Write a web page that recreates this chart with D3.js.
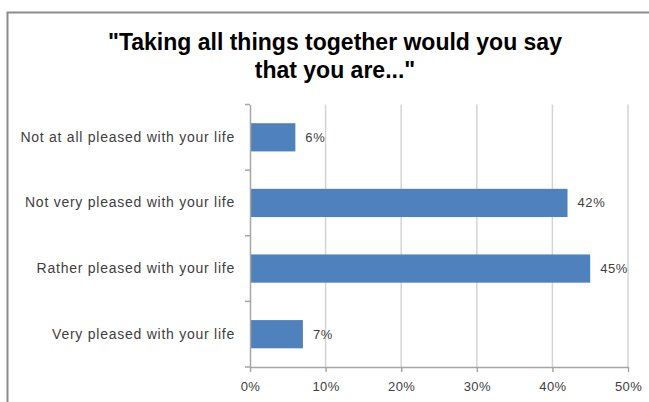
<!DOCTYPE html>
<html>
<head>
<meta charset="utf-8">
<script src="https://cdn.jsdelivr.net/npm/d3@7"></script>
<style>
  body { margin: 0; background: #fff; }
  svg { display: block; }
</style>
</head>
<body>
<svg id="chart" width="649" height="402"></svg>
<script>
// chart data
const categories = [
    "Not at all pleased with your life",
    "Not very pleased with your life",
    "Rather pleased with your life",
    "Very pleased with your life"
];
const values = [6, 42, 45, 7];
const xTicks = [0, 10, 20, 30, 40, 50];
const titleLines = ['"Taking all things together would you say', 'that you are..."'];

const svg = d3.select('#chart');

const colors = {
    bar: "#4F81BD",
    grid: "#d4d4d4",
    axis: "#a6a6a6",
    text: "#404040",
    frame: "#8c8c8c"
};
const font = 'Liberation Sans, Arial, sans-serif';

// outer chart frame (runs off the right and bottom edges)
svg.append('rect')
    .attr('x', 7.5).attr('y', 12.5)
    .attr('width', 660).attr('height', 420)
    .attr('fill', 'none')
    .attr('stroke', colors.frame)
    .attr('stroke-width', 2);

// title
svg.append('text')
    .attr('text-anchor', 'middle')
    .style('font-family', font)
    .style('font-weight', 'bold')
    .style('font-size', '23px')
    .style('fill', '#000')
    .selectAll('tspan')
    .data(titleLines)
    .enter().append('tspan')
    .attr('x', 335)
    .attr('y', (d, i) => 50 + i * 28)
    .text(d => d);

const margin = { top: 104.5, left: 250 };
const plotW = 378, plotH = 262.5;

const g = svg.append('g').attr('transform', `translate(${margin.left},${margin.top})`);

const x = d3.scaleLinear().domain([0, 50]).range([0, plotW]);
const y = d3.scaleBand().domain(categories).range([0, plotH]).paddingInner(0.57).paddingOuter(0.285);
const bandY = d3.scaleBand().domain(categories).range([0, plotH]);

// gridlines
g.selectAll('.grid')
    .data(xTicks.slice(1))
    .enter().append('line')
    .attr('x1', d => x(d)).attr('x2', d => x(d))
    .attr('y1', 0).attr('y2', plotH)
    .attr('stroke', colors.grid)
    .attr('stroke-width', 1.5);

// bars
g.selectAll('.bar')
    .data(values)
    .enter().append('rect')
    .attr('x', 0)
    .attr('y', (d, i) => y(categories[i]))
    .attr('width', d => x(d))
    .attr('height', y.bandwidth())
    .attr('fill', colors.bar);

// value labels
g.selectAll('.val')
    .data(values)
    .enter().append('text')
    .attr('x', d => x(d) + 10)
    .attr('y', (d, i) => y(categories[i]) + y.bandwidth() / 2)
    .attr('dy', '0.35em')
    .style('font-family', font)
    .style('font-size', '13px')
    .style('letter-spacing', '0.6px')
    .style('fill', colors.text)
    .text(d => d + '%');

// y axis
const yAxis = g.append('g')
    .call(d3.axisLeft(bandY).tickSize(0).tickPadding(15));
yAxis.select('.domain').attr('stroke', colors.axis).attr('stroke-width', 1.5);
yAxis.selectAll('text')
    .style('font-family', font)
    .style('font-size', '14px')
    .style('letter-spacing', '0.75px')
    .style('fill', colors.text);
// category separator ticks
g.selectAll('.ytick')
    .data(d3.range(categories.length + 1))
    .enter().append('line')
    .attr('x1', -5).attr('x2', 0)
    .attr('y1', i => i * bandY.step()).attr('y2', i => i * bandY.step())
    .attr('stroke', colors.axis)
    .attr('stroke-width', 1.5);

// x axis
const xAxis = g.append('g')
    .attr('transform', `translate(0,${plotH})`)
    .call(d3.axisBottom(x).tickValues(xTicks).tickFormat(d => d + '%').tickSize(5).tickSizeOuter(0).tickPadding(10));
xAxis.select('.domain').attr('stroke', colors.axis).attr('stroke-width', 1.5);
xAxis.selectAll('.tick line').attr('stroke', colors.axis).attr('stroke-width', 1.5);
xAxis.selectAll('text')
    .style('font-family', font)
    .style('font-size', '13px')
    .style('letter-spacing', '0.4px')
    .style('fill', colors.text);
</script>
</body>
</html>
